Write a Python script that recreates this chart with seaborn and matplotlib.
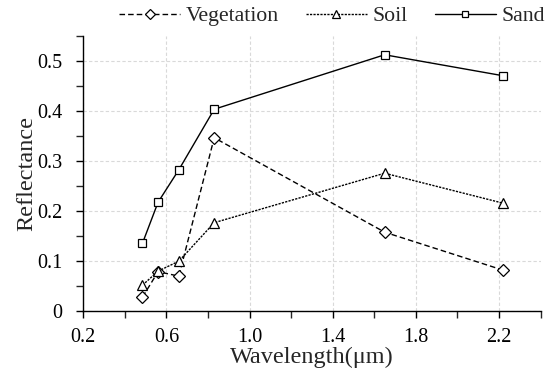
import matplotlib
matplotlib.use("Agg")
import matplotlib.pyplot as plt
import seaborn as sns
import pandas as pd
from matplotlib.ticker import MultipleLocator, FixedLocator

wavelength = [0.485, 0.56, 0.66, 0.83, 1.65, 2.22]
vegetation = [0.028, 0.079, 0.070, 0.347, 0.158, 0.082]
soil = [0.052, 0.080, 0.100, 0.177, 0.276, 0.216]
sand = [0.136, 0.218, 0.283, 0.404, 0.513, 0.471]
series_names = ["Vegetation", "Soil", "Sand"]
xtick_labels = ["0.2", "0.6", "1.0", "1.4", "1.8", "2.2"]
ytick_labels = ["0", "0.1", "0.2", "0.3", "0.4", "0.5"]

df = pd.concat([
    pd.DataFrame({"Wavelength": wavelength, "Reflectance": v, "Type": n})
    for n, v in zip(series_names, [vegetation, soil, sand])
], ignore_index=True)

sns.set_style("ticks")
plt.rcParams["font.family"] = ["Liberation Serif", "DejaVu Serif"]

fig = plt.figure(figsize=(5.55, 3.76), dpi=100)
ax = fig.add_axes([0.150, 0.1725, 0.824, 0.731])

styles = {
    "Vegetation": dict(marker="D", ms=5.8, dashes=(4, 2.2)),
    "Soil": dict(marker="^", ms=7.2, dashes=(1.6, 0.9)),
    "Sand": dict(marker="s", ms=5.3, dashes=()),
}
for n in series_names:
    st = styles[n]
    sub = df[df["Type"] == n]
    sns.lineplot(data=sub, x="Wavelength", y="Reflectance", ax=ax,
                 color="black", lw=1.0, marker=st["marker"],
                 markersize=st["ms"], markerfacecolor="white",
                 markeredgecolor="black", markeredgewidth=0.9,
                 label=n, sort=False)
    ln = ax.get_lines()[-1]
    if st["dashes"]:
        ln.set_dashes(st["dashes"])

ax.set_xlim(0.2, 2.4)
ax.set_ylim(0, 0.55)
ax.xaxis.set_major_locator(FixedLocator([0.2, 0.6, 1.0, 1.4, 1.8, 2.2]))
ax.xaxis.set_minor_locator(MultipleLocator(0.2))
ax.yaxis.set_major_locator(FixedLocator([0, 0.1, 0.2, 0.3, 0.4, 0.5]))
ax.yaxis.set_minor_locator(MultipleLocator(0.05))
ax.set_xticklabels(xtick_labels)
ax.set_yticklabels(ytick_labels)
ax.tick_params(axis="both", which="major", direction="out", length=5, width=1,
               labelsize=14.5, colors="black")
ax.tick_params(axis="y", which="major", pad=10)
ax.tick_params(axis="x", which="major", pad=7)
ax.tick_params(axis="both", which="minor", direction="out", length=5, width=1)
ax.grid(True, which="major", color="#d9d9d9", linestyle=(0, (3, 2)), linewidth=0.8)
ax.set_axisbelow(True)
sns.despine(ax=ax)
for s in ["left", "bottom"]:
    ax.spines[s].set_linewidth(1.0)
    ax.spines[s].set_color("black")

ax.set_xlabel("Wavelength(μm)", fontsize=17.5, labelpad=0)
ax.set_ylabel("Reflectance", fontsize=17.5, labelpad=0)

handles, labels = ax.get_legend_handles_labels()
leg = fig.legend(handles, labels, loc="center", bbox_to_anchor=(0.598, 0.957), ncol=3,
                 frameon=False, fontsize=15.7, handlelength=2.8, columnspacing=1.25,
                 handletextpad=0.25, borderaxespad=0, borderpad=0, markerscale=0.85)
ax.get_legend().remove()

fig.savefig("out.png", dpi=100)
